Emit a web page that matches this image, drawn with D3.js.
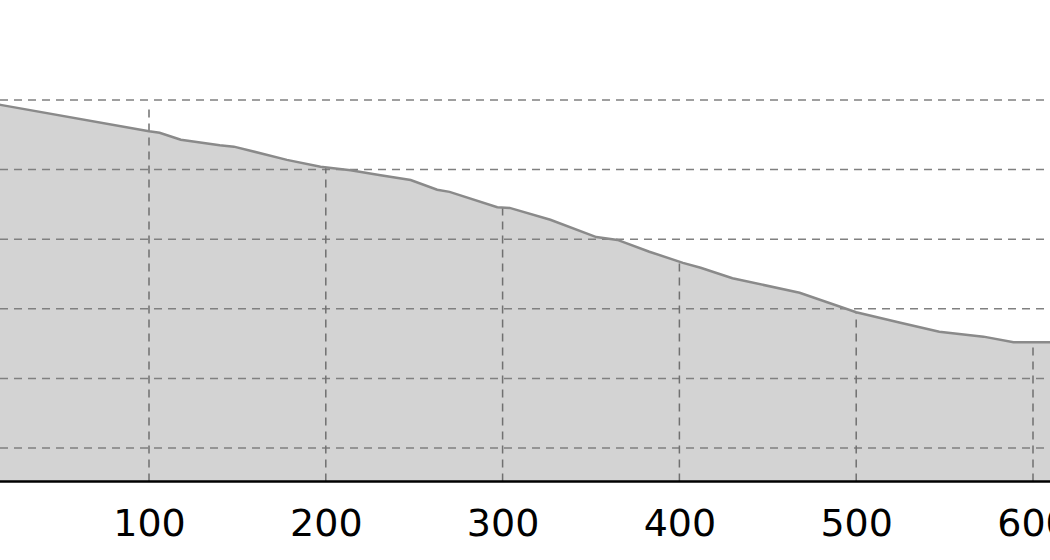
<!DOCTYPE html>
<html>
<head>
<meta charset="utf-8">
<script src="https://cdn.jsdelivr.net/npm/d3@7"></script>
<style>
  body { margin: 0; background: #fff; }
  svg { display: block; }
  .tick text { font-family: "DejaVu Sans", sans-serif; font-size: 38px; fill: #000; }
</style>
</head>
<body>
<svg width="1050" height="560"></svg>
<script>
// distance along the profile and elevation
const distance = [0, 16, 100, 106, 118, 140, 148, 178, 197, 214, 231, 248, 263, 270, 297, 304,
                  327, 353, 365, 383, 402, 412, 430, 468, 500, 525, 547, 572, 589, 610, 630];
const elevation = [600, 593, 555, 553, 543, 535, 533, 514, 504, 499, 492, 485, 471, 468, 446, 445,
                   428, 403, 399, 382, 366, 359, 344, 323, 295, 280, 267, 260, 252, 252, 249];
const xTicks = [100, 200, 300, 400, 500, 600];
const yTicks = [100, 200, 300, 400, 500, 600];
// height of the marker lines at each x tick
const markerTop = [588, 503, 446, 365, 295, 252];

const svg = d3.select('svg');
const width = +svg.attr('width');
const bottom = 481.5;

const x = d3.scaleLinear().domain([100, 600]).range([149, 1033]);
const y = d3.scaleLinear().domain([100, 600]).range([448, 100]);

const data = distance.map((d, i) => ({ x: d, y: elevation[i] }));

const area = d3.area()
  .x(d => x(d.x))
  .y0(bottom)
  .y1(d => y(d.y));

const line = d3.line()
  .x(d => x(d.x))
  .y(d => y(d.y));

svg.append('path')
  .datum(data)
  .attr('d', area)
  .attr('fill', '#d3d3d3');

// horizontal grid
svg.append('g')
  .selectAll('line')
  .data(yTicks)
  .enter().append('line')
    .attr('x1', 0)
    .attr('x2', width)
    .attr('y1', d => y(d))
    .attr('y2', d => y(d))
    .attr('stroke', '#808080')
    .attr('stroke-width', 1.5)
    .attr('stroke-dasharray', '8,6');

// vertical markers from axis up to profile
svg.append('g')
  .selectAll('line')
  .data(xTicks)
  .enter().append('line')
    .attr('x1', d => x(d))
    .attr('x2', d => x(d))
    .attr('y1', bottom)
    .attr('y2', (d, i) => y(markerTop[i]))
    .attr('stroke', '#707070')
    .attr('stroke-width', 1.5)
    .attr('stroke-dasharray', '8,6');

svg.append('path')
  .datum(data)
  .attr('d', line)
  .attr('fill', 'none')
  .attr('stroke', '#8a8a8a')
  .attr('stroke-width', 2.5);

const xAxis = d3.axisBottom(x)
  .tickValues(xTicks)
  .tickSize(0)
  .tickPadding(28)
  .tickFormat(d3.format('d'));

const xAxisG = svg.append('g')
  .attr('transform', `translate(0,${bottom})`)
  .call(xAxis);
xAxisG.select('.domain').remove();

svg.append('line')
  .attr('x1', 0)
  .attr('x2', width)
  .attr('y1', bottom)
  .attr('y2', bottom)
  .attr('stroke', '#000')
  .attr('stroke-width', 2.5);
</script>
</body>
</html>
